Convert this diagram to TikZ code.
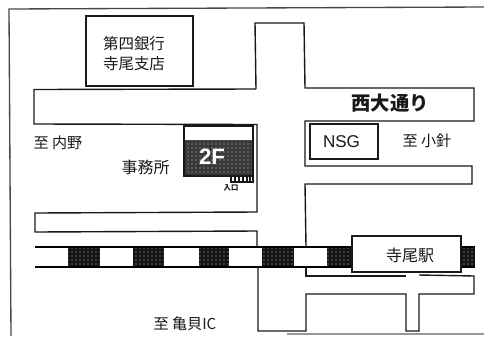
\documentclass[tikz,border=0pt]{standalone}
\usepackage{fontspec}
\usetikzlibrary{patterns}
\setmainfont{Liberation Sans}
\newfontfamily\cjk{Noto Sans CJK JP}
\definecolor{ink}{gray}{0.1}
\definecolor{hatchdark}{gray}{0.22}
\definecolor{raildark}{gray}{0.08}
\tikzset{
  px/.style={x=0.75pt,y=-0.75pt},
  road/.style={draw=ink,line width=1.05pt,line join=miter},
  frameline/.style={draw=ink!80,line width=1pt},
  solidbox/.style={draw=ink,line width=1.05pt,fill=white},
  railblock/.style={preaction={fill=raildark},pattern=dots,pattern color=white!75!black},
  floorblock/.style={preaction={fill=hatchdark},pattern=dots,pattern color=white!80!black},
  jp/.style={font=\cjk\fontsize{11.3pt}{15pt}\selectfont,text=ink,inner sep=0pt,align=center},
  latin/.style={font=\fontsize{12.8pt}{14pt}\selectfont,text=ink,inner sep=0pt}
}
\begin{document}
\begin{tikzpicture}[px]
\useasboundingbox (0,0) rectangle (484,336);
\fill[white] (0,0) rectangle (484,336);
% frame
\draw[frameline] (484,7) -- (9,9) -- (11,336);
\draw[draw=ink!45,line width=0.8pt] (287,334) -- (484,334);
% rail
\fill[white] (35,246) rectangle (475,267);
\foreach \a/\b in {68/100,133/164,199/229,262/294,327/352,462/475}
  \path[railblock] (\a,246) rectangle (\b,267);
\draw[draw=black,line width=1.5pt] (35,246.5) -- (475,246.5);
\draw[draw=black,line width=1.5pt] (35,267) -- (475,267);
% bank
\draw[solidbox] (86,16) rectangle (193,86);
\node[jp,font=\cjk\fontsize{11.6pt}{15pt}\selectfont] (banktext) at (134,53.5) {第四銀行\\寺尾支店};
% roads
\draw[road] (256,89) -- (34,89.5) -- (34,124) -- (257,124.5) -- (257,212) -- (35,213) -- (35,232) -- (257,231) -- (257,246);
\draw[road] (256,89) -- (255,23) -- (304,23) -- (305,88) -- (474,88) -- (474,121) -- (305,121) -- (305,166) -- (472,166) -- (472,184) -- (305,184) -- (306,246);
\draw[road] (306,267) -- (306,276) -- (406,276);
\draw[road] (419,275) -- (474,276) -- (474,294) -- (419,294) -- (419,331) -- (406,331) -- (406,294) -- (306,294) -- (306,331) -- (258,331) -- (258,267);
% building
\draw[solidbox] (184,126) rectangle (253,176);
\path[floorblock] (184,140) rectangle (253,176);
\draw[draw=ink,line width=1.05pt] (184,126) rectangle (253,176);
\node[font=\bfseries\fontsize{16.7pt}{17pt}\selectfont,text=white,inner sep=0pt] (floor) at (212,157) {2F};
% entrance
\draw[solidbox] (231,176) rectangle (253,182);
\foreach \x in {235,239,243,247,250} \draw[draw=ink,line width=0.8pt] (\x,176) -- (\x,182);
\node[jp,font=\cjk\bfseries\fontsize{5.5pt}{7pt}\selectfont] (entry) at (231,188) {入口};
% boxes
\draw[solidbox] (310,124) rectangle (378,159);
\node[latin] (nsg) at (341.5,141.5) {NSG};
\node[jp] (ohari) at (427,141) {至 小針};
\node[jp] (uchino) at (58,143) {至 内野};
\node[jp,font=\cjk\fontsize{12pt}{14pt}\selectfont] (office) at (145.5,167) {事務所};
\node[jp,font=\cjk\fontsize{14.5pt}{16pt}\selectfont\bfseries] (odori) at (390,103) {西大通り};
\node[jp] (kameda) at (185,324) {至 亀貝IC};
\draw[solidbox] (352,236) rectangle (461,272);
\node[jp,font=\cjk\fontsize{12pt}{14pt}\selectfont] (station) at (410,255) {寺尾駅};
\end{tikzpicture}
\end{document}
